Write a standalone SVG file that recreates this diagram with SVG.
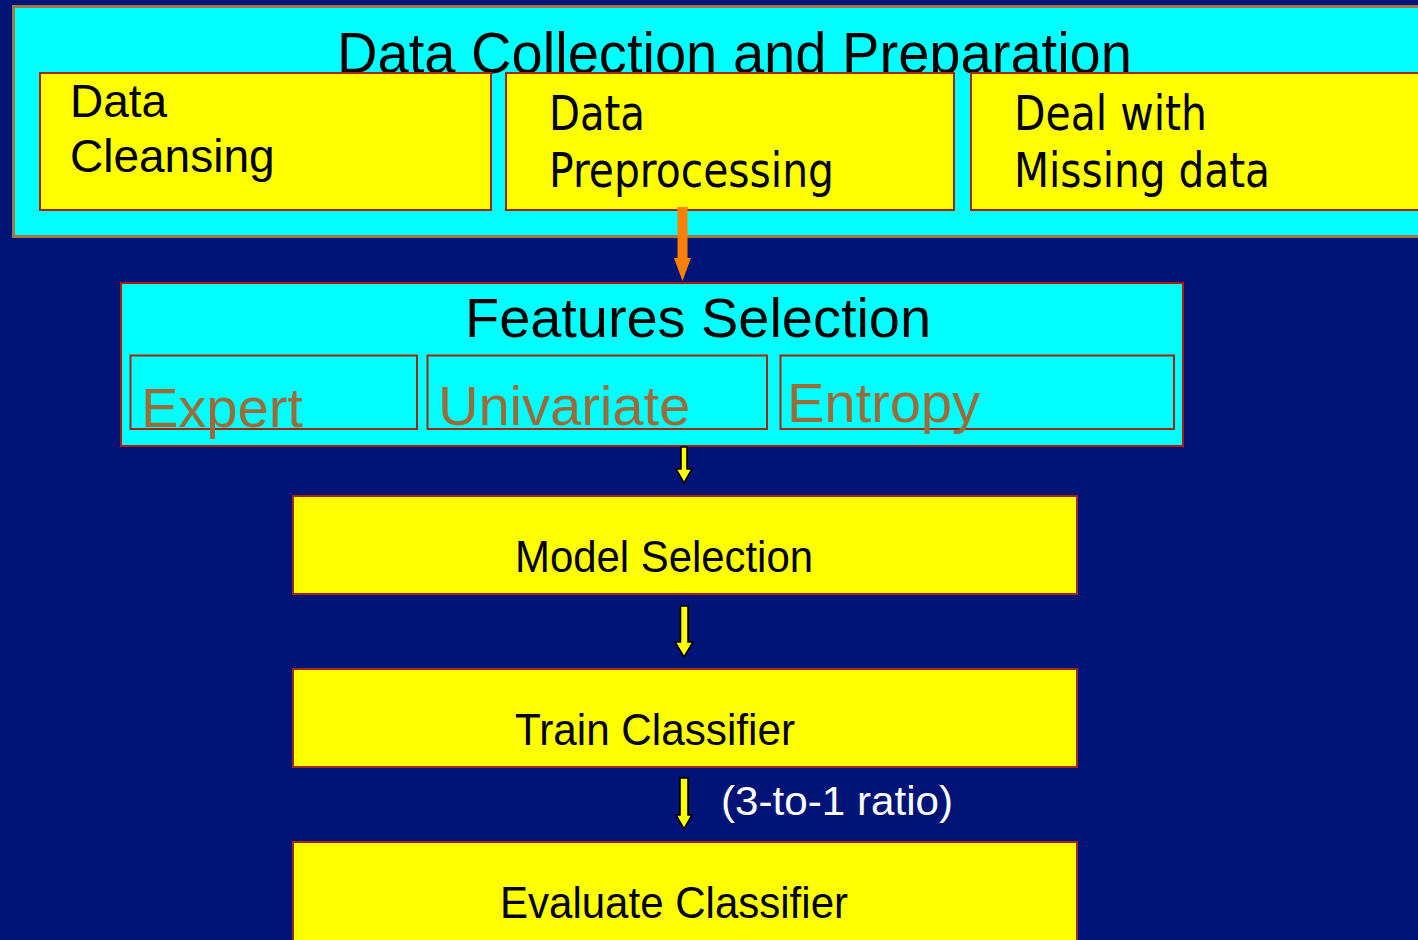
<svg xmlns="http://www.w3.org/2000/svg" width="1418" height="940" viewBox="0 0 1418 940">
  <defs>
    <style>
      .panel { fill: #00FFFF; }
      .step { fill: #FFFF00; stroke: #A02810; stroke-width: 2; }
      .sub { fill: none; stroke: #A02810; stroke-width: 2; }
      .arial { font-family: "Liberation Sans", Arial, sans-serif; fill: #000000; }
      .tahoma { font-family: "DejaVu Sans", Verdana, sans-serif; fill: #000000; }
      .method { font-family: "Liberation Sans", Arial, sans-serif; fill: #9C6B3A; font-size: 56px; }
      .yarrow { fill: #FFFF00; stroke: #000000; stroke-width: 1.6; stroke-linejoin: miter; }
    </style>
  </defs>

  <!-- slide background -->
  <rect x="0" y="0" width="1418" height="940" fill="#001478"/>

  <!-- data collection stage -->
  <g id="data-collection">
    <rect x="13.5" y="6.5" width="1420" height="230" class="panel" stroke="#A07848" stroke-width="3"/>
    <text x="337" y="73" class="arial" font-size="58" textLength="795" lengthAdjust="spacingAndGlyphs">Data Collection and Preparation</text>
  </g>

  <g id="data-cleansing">
    <rect x="40" y="73" width="451" height="137" class="step"/>
    <text class="arial" font-size="46">
      <tspan x="70" y="117">Data</tspan>
      <tspan x="70" y="172">Cleansing</tspan>
    </text>
  </g>

  <g id="data-preprocessing">
    <rect x="506" y="73" width="448" height="137" class="step"/>
    <text class="tahoma" font-size="48">
      <tspan x="549" y="130" textLength="96" lengthAdjust="spacingAndGlyphs">Data</tspan>
      <tspan x="549" y="187" textLength="285" lengthAdjust="spacingAndGlyphs">Preprocessing</tspan>
    </text>
  </g>

  <g id="missing-data">
    <rect x="971" y="73" width="460" height="137" class="step"/>
    <text class="tahoma" font-size="48">
      <tspan x="1014" y="130" textLength="193" lengthAdjust="spacingAndGlyphs">Deal with</tspan>
      <tspan x="1014" y="187" textLength="256" lengthAdjust="spacingAndGlyphs">Missing data</tspan>
    </text>
  </g>

  <!-- feature selection stage -->
  <g id="features-selection">
    <rect x="121" y="283" width="1062" height="163" class="panel" stroke="#B01808" stroke-width="2"/>
    <text x="465" y="337" class="arial" font-size="55" textLength="466" lengthAdjust="spacingAndGlyphs">Features Selection</text>
  </g>

  <g id="expert">
    <rect x="130.5" y="355.5" width="286.5" height="73.5" class="sub"/>
    <text x="141" y="427" class="method">Expert</text>
  </g>

  <g id="univariate">
    <rect x="427.5" y="355.5" width="339.5" height="73.5" class="sub"/>
    <text x="438" y="425" class="method">Univariate</text>
  </g>

  <g id="entropy">
    <rect x="780.5" y="355.5" width="393.5" height="73.5" class="sub"/>
    <text x="787" y="422" class="method">Entropy</text>
  </g>

  <!-- modelling stages -->
  <g id="model-selection">
    <rect x="293" y="496" width="784" height="98" class="step"/>
    <text x="515" y="572" class="arial" font-size="44" textLength="298" lengthAdjust="spacingAndGlyphs">Model Selection</text>
  </g>

  <g id="train-classifier">
    <rect x="293" y="669" width="784" height="98" class="step"/>
    <text x="515" y="745" class="arial" font-size="44" textLength="280" lengthAdjust="spacingAndGlyphs">Train Classifier</text>
  </g>

  <g id="evaluate-classifier">
    <rect x="293" y="842" width="784" height="110" class="step"/>
    <text x="500" y="918" class="arial" font-size="44" textLength="348" lengthAdjust="spacingAndGlyphs">Evaluate Classifier</text>
  </g>

  <!-- flow arrows -->
  <g id="connectors">
    <path d="M677.5,207 H687.5 V258 H691 L682.5,281 L674,258 H677.5 Z" fill="#FF7F00"/>
    <path d="M681,447 H687 V469 H692 L684,483 L676,469 H681 Z" class="yarrow"/>
    <path d="M680.5,606 H688 V642 H693 L684,657 L675,642 H680.5 Z" class="yarrow"/>
    <path d="M680,778 H688 V815 H692 L684,829 L676,815 H680 Z" class="yarrow"/>
    <text x="721" y="815" font-family="Liberation Sans, Arial, sans-serif" font-size="41" fill="#FFFFFF" textLength="232" lengthAdjust="spacingAndGlyphs">(3-to-1 ratio)</text>
  </g>
</svg>
